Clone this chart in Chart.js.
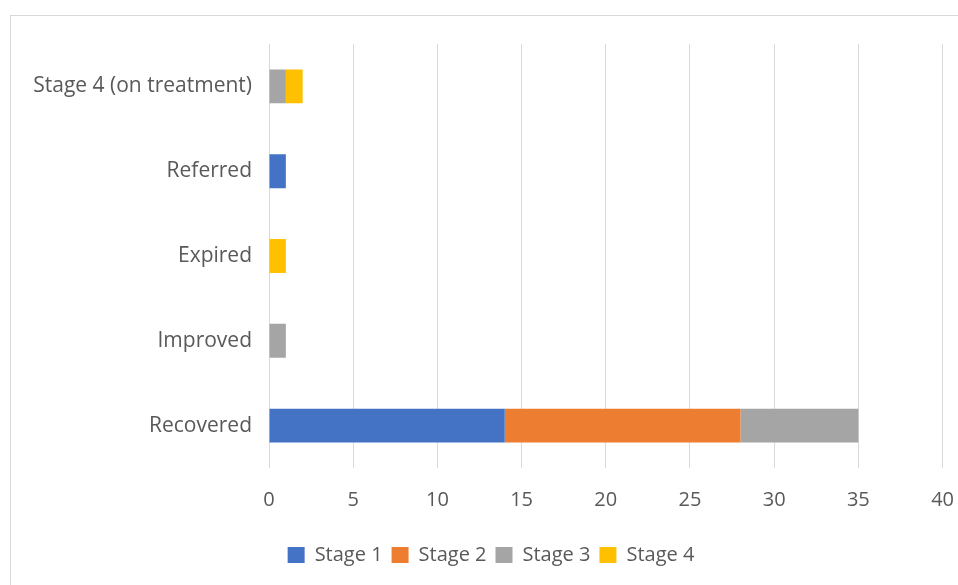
<!DOCTYPE html>
<html>
<head>
<meta charset="utf-8">
<script src="https://cdn.jsdelivr.net/npm/chart.js@4"></script>
<style>
  html, body { margin: 0; padding: 0; background: #fff; overflow: hidden; }
  #frame { position: absolute; left: 10px; top: 15px; width: 1000px; height: 700px; border: 1px solid #d9d9d9; }
  #wrap { position: absolute; left: 0; top: 0; width: 958px; height: 585px; }
</style>
</head>
<body>
<div id="frame"></div>
<div id="wrap"><canvas id="chart" width="958" height="585"></canvas></div>
<script>
const categories = ['Stage 4 (on treatment)', 'Referred', 'Expired', 'Improved', 'Recovered'];
const stage1 = [0, 1, 0, 0, 14];
const stage2 = [0, 0, 0, 0, 14];
const stage3 = [1, 0, 0, 1, 7];
const stage4 = [1, 0, 1, 0, 0];
const seriesNames = ['Stage 1', 'Stage 2', 'Stage 3', 'Stage 4'];

const colors = ['#4472C4', '#ED7D31', '#A5A5A5', '#FFC000'];
const fontFamily = '"Open Sans", Lato, sans-serif';

const ctx = document.getElementById('chart');
new Chart(ctx, {
  type: 'bar',
  data: {
    labels: categories,
    datasets: [stage1, stage2, stage3, stage4].map((d, i) => ({
      label: seriesNames[i],
      data: d,
      backgroundColor: colors[i],
      borderWidth: 0,
      categoryPercentage: 1,
      barPercentage: 0.4
    }))
  },
  options: {
    indexAxis: 'y',
    responsive: false,
    animation: false,
    events: [],
    layout: { padding: { top: 44, right: 0, left: 24, bottom: 10 } },
    plugins: {
      legend: {
        position: 'bottom',
        labels: {
          boxWidth: 17,
          boxHeight: 16,
          padding: 9,
          color: '#595959',
          font: { family: fontFamily, size: 20 }
        }
      },
      tooltip: { enabled: false }
    },
    scales: {
      x: {
        stacked: true,
        min: 0,
        max: 40,
        ticks: {
          stepSize: 5,
          padding: 4,
          color: '#595959',
          font: { family: fontFamily, size: 20 }
        },
        // tick marks invisible, only used to push the labels down
        grid: { color: '#d9d9d9', lineWidth: 1, drawTicks: true, tickLength: 16, tickColor: 'rgba(0,0,0,0)' },
        border: { display: false },
        afterFit: scale => { scale.height = 68; }
      },
      y: {
        stacked: true,
        ticks: {
          padding: 17,
          color: '#595959',
          font: { family: fontFamily, size: 21 }
        },
        grid: { display: false, drawTicks: false },
        border: { display: false },
        afterFit: scale => { scale.width = 245; }
      }
    }
  }
});
</script>
</body>
</html>
